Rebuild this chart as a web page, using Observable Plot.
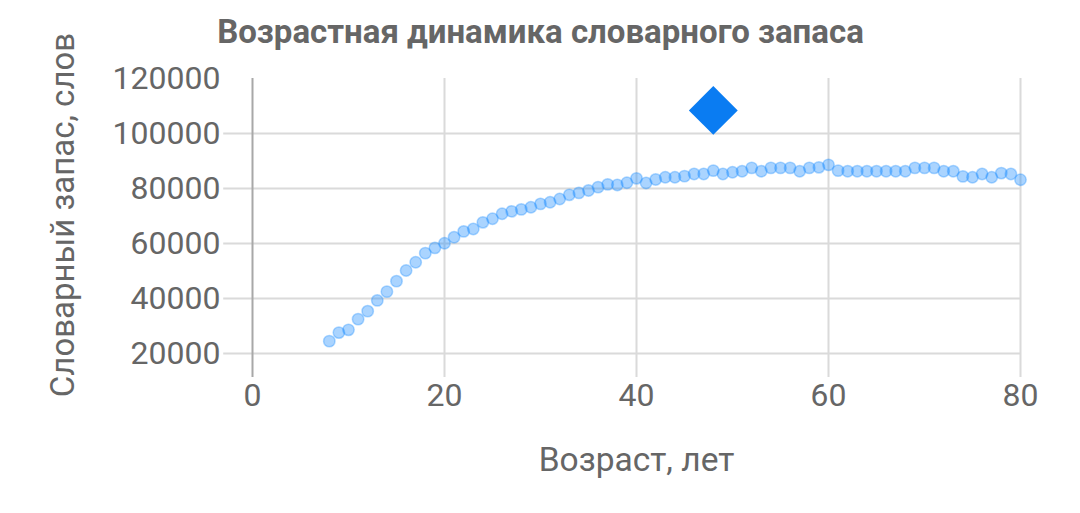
<!DOCTYPE html>
<html>
<head>
<meta charset="utf-8">
<script src="https://cdn.jsdelivr.net/npm/d3@7"></script>
<script src="https://cdn.jsdelivr.net/npm/@observablehq/plot@0.6"></script>
<style>
  html, body { margin: 0; padding: 0; background: #fff; }
  #chart { width: 1080px; height: 513px; }
  svg { font-family: Roboto, "Noto Sans", sans-serif; }
</style>
</head>
<body>
<div id="chart"></div>
<script>
const ages = [8,9,10,11,12,13,14,15,16,17,18,19,20,21,22,23,24,25,26,27,28,29,30,31,32,33,34,35,36,37,38,39,40,41,42,43,44,45,46,47,48,49,50,51,52,53,54,55,56,57,58,59,60,61,62,63,64,65,66,67,68,69,70,71,72,73,74,75,76,77,78,79,80];
const vocab = [24500,27600,28600,32500,35400,39300,42500,46300,50200,53200,56500,58400,60100,62300,64400,65300,67700,69000,70800,71700,72400,73200,74400,75000,76200,77700,78400,79300,80500,81500,81300,82100,83700,82000,83300,84100,84100,84500,85300,85300,86500,85300,85900,86300,87500,86300,87500,87500,87500,86300,87500,87700,88600,86500,86300,86300,86300,86300,86300,86300,86300,87500,87500,87500,86300,86300,84400,84100,85300,84100,85600,85300,83200];
const highlightAge = [48];
const highlightVocab = [108400];

const xTicks = [0, 20, 40, 60, 80];
const yTicks = [20000, 40000, 60000, 80000, 100000, 120000];
const yGrid = [20000, 40000, 60000, 80000, 100000];
const xDomain = [0, 80];
const yDomain = [20000, 120000];
const gridLeftAge = -3;

const title = "Возрастная динамика словарного запаса";
const xLabel = "Возраст, лет";
const yLabel = "Словарный запас, слов";

const points = ages.map((a, i) => ({age: a, words: vocab[i]}));
const highlight = highlightAge.map((a, i) => ({age: a, words: highlightVocab[i]}));

const plot = Plot.plot({
  width: 1080,
  height: 513,
  marginLeft: 252,
  marginRight: 60,
  marginTop: 78,
  marginBottom: 136,
  style: {fontFamily: "Roboto, 'Noto Sans', sans-serif", color: "#666", background: "#fff"},
  x: {domain: xDomain, ticks: xTicks},
  y: {domain: yDomain, ticks: yTicks, insetBottom: 24},
  marks: [
    Plot.ruleY(yGrid, {y: d => d, x1: gridLeftAge, x2: xDomain[1], stroke: "#dadada", strokeWidth: 2, clip: false}),
    Plot.ruleX(xTicks.slice(1), {x: d => d, stroke: "#dadada", strokeWidth: 2}),
    Plot.ruleX([xTicks[0]], {x: d => d, stroke: "#a8a8a8", strokeWidth: 2}),
    Plot.axisX({ticks: xTicks, tickSize: 0, tickPadding: 6, fontSize: 32, fill: "#666", label: null, tickFormat: d => String(d)}),
    Plot.axisY({ticks: yTicks, tickSize: 0, tickPadding: 32, fontSize: 32, fill: "#666", label: null, tickFormat: d => String(d)}),
    Plot.dot(points, {x: "age", y: "words", r: 5.7, fill: "#1f8fff", fillOpacity: 0.38, stroke: "#1f8fff", strokeOpacity: 0.35, strokeWidth: 1.5}),
    Plot.dot(highlight, {x: "age", y: "words", symbol: "diamond2", r: 22, fill: "#0a7cf2", stroke: "none"}),
    Plot.text([title], {frameAnchor: "top", dx: -96, dy: -36, lineAnchor: "bottom", fontSize: 33, fontWeight: "bold", fill: "#666"}),
    Plot.text([xLabel], {frameAnchor: "bottom", dy: 93, lineAnchor: "bottom", fontSize: 33.5, fill: "#666"}),
    Plot.text([yLabel], {frameAnchor: "left", dx: -189, dy: -13, rotate: -90, lineAnchor: "middle", textAnchor: "middle", fontSize: 33, fill: "#666"})
  ]
});
document.getElementById("chart").appendChild(plot);
</script>
</body>
</html>
